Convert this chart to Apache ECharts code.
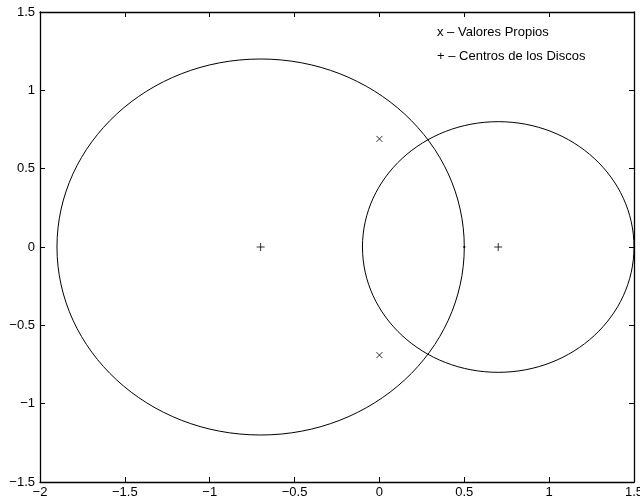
<!DOCTYPE html>
<html>
<head>
<meta charset="utf-8">
<script src="https://cdn.jsdelivr.net/npm/echarts@6/dist/echarts.min.js"></script>
<style>
	html, body { margin: 0; padding: 0; background: #fff; }
	#main { width: 640px; height: 502px; }
</style>
</head>
<body>
<div id="main"></div>
<script>
// Gershgorin discs: [centre x, centre y, radius]
const discs = [[-0.7, 0, 1.2], [0.7, 0, 0.8]];
const eigenvalues = [[0, 0.69], [0, -0.69]];
const centres = [[-0.7, 0], [0.7, 0]];
const dots = [[0.5, 0]];
const legendLines = ['x \u2013 Valores Propios', '+ \u2013 Centros de los Discos'];

const myChart = echarts.init(document.getElementById('main'), null, { renderer: 'canvas' });
const font = 'Liberation Sans, Arial, Helvetica, sans-serif';
const minus = function (v) { return String(v).replace('-', '\u2212'); };

const axisCommon = {
	axisLine: { show: true, onZero: false, lineStyle: { color: '#000', width: 1.3 } },
	axisTick: { show: true, inside: true, length: 5, lineStyle: { color: '#000' } },
	splitLine: { show: false }
};

option = {
	animation: false,
	backgroundColor: '#fff',
	grid: { left: 40, right: 6, top: 12, bottom: 20, outerBoundsMode: 'none', containLabel: false },
	xAxis: [
		Object.assign({
			type: 'value', min: -2, max: 1.5, interval: 0.5, position: 'bottom',
			axisLabel: { color: '#000', fontSize: 13, fontFamily: font, margin: 4, formatter: minus, showMaxLabel: true }
		}, axisCommon),
		Object.assign({
			type: 'value', min: -2, max: 1.5, interval: 0.5, position: 'top',
			axisLabel: { show: false }
		}, axisCommon)
	],
	yAxis: [
		Object.assign({
			type: 'value', min: -1.5, max: 1.5, interval: 0.5, position: 'left',
			axisLabel: { color: '#000', fontSize: 13, fontFamily: font, margin: 5, formatter: minus }
		}, axisCommon),
		Object.assign({
			type: 'value', min: -1.5, max: 1.5, interval: 0.5, position: 'right',
			axisLabel: { show: false }
		}, axisCommon)
	],
	series: [
		{
			type: 'custom',
			data: discs,
			silent: true,
			renderItem: function (params, api) {
				const c = api.coord([api.value(0), api.value(1)]);
				const s = api.size([api.value(2), api.value(2)]);
				return {
					type: 'ellipse',
					shape: { cx: c[0], cy: c[1], rx: s[0], ry: s[1] },
					style: { fill: null, stroke: '#000', lineWidth: 1 }
				};
			}
		},
		{
			type: 'scatter',
			data: eigenvalues,
			symbol: 'path://M0,0L10,10M10,0L0,10',
			symbolSize: 6,
			itemStyle: { color: 'none', borderColor: '#000', borderWidth: 1 }
		},
		{
			type: 'scatter',
			data: centres,
			symbol: 'path://M5,0L5,10M0,5L10,5',
			symbolSize: 8,
			itemStyle: { color: 'none', borderColor: '#000', borderWidth: 1 }
		},
		{
			type: 'scatter',
			data: dots,
			symbol: 'rect',
			symbolSize: 2,
			itemStyle: { color: '#000' }
		}
	],
	graphic: legendLines.map(function (t, i) {
		return {
			type: 'text',
			left: 437,
			top: 26 + i * 24,
			style: { text: t, fill: '#000', font: '13px ' + font }
		};
	})
};
myChart.setOption(option);
</script>
</body>
</html>
